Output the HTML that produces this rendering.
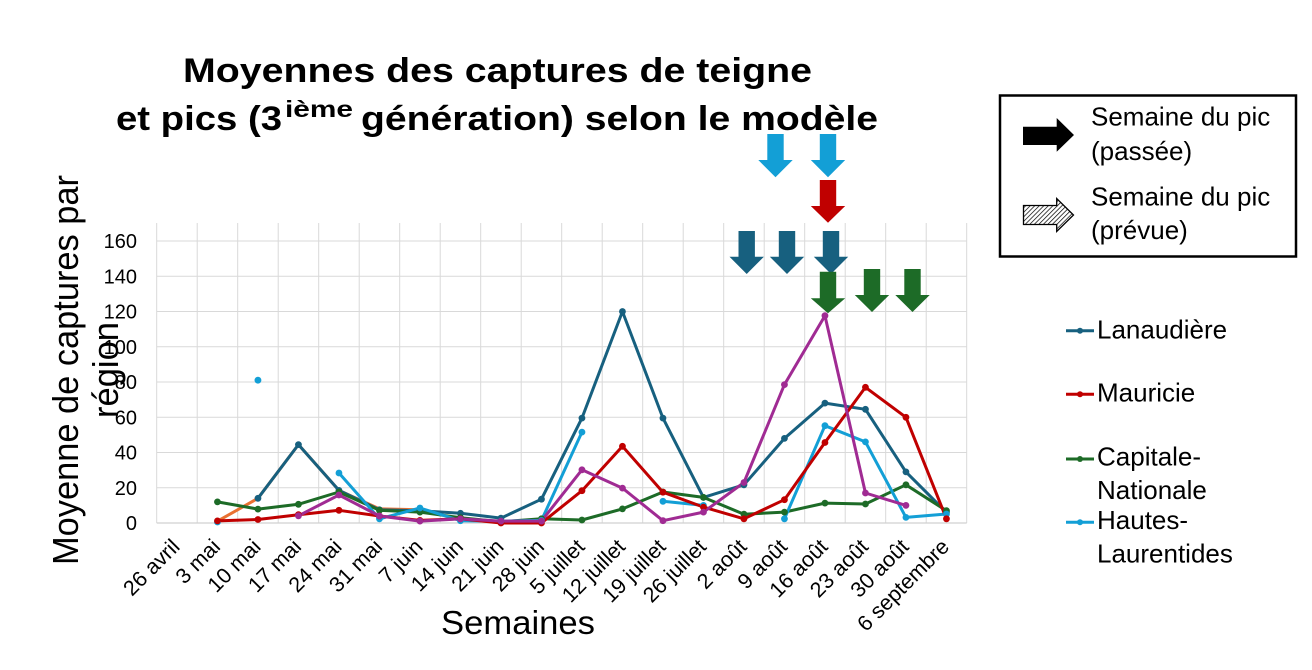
<!DOCTYPE html>
<html><head><meta charset="utf-8"><style>
html,body{margin:0;padding:0;background:#fff;}
svg{display:block;}
text{font-family:"Liberation Sans",Arial,sans-serif;fill:#000;}
</style></head><body>
<svg width="1312" height="670" viewBox="0 0 1312 670" xmlns="http://www.w3.org/2000/svg">
<defs>
<pattern id="hatch" width="3.2" height="3.2" patternUnits="userSpaceOnUse" patternTransform="rotate(45)">
<rect width="3.2" height="3.2" fill="#fff"/>
<line x1="0" y1="0" x2="0" y2="3.2" stroke="#000" stroke-width="1.4"/>
</pattern>
</defs>
<rect width="1312" height="670" fill="#fff"/>

<!-- Title -->
<text x="183" y="82" font-size="34" font-weight="bold" textLength="629" lengthAdjust="spacingAndGlyphs">Moyennes des captures de teigne</text>
<text x="116" y="130" font-size="34" font-weight="bold" textLength="166" lengthAdjust="spacingAndGlyphs">et pics (3</text>
<text x="285" y="117" font-size="23" font-weight="bold" textLength="68" lengthAdjust="spacingAndGlyphs">ième</text>
<text x="361" y="130" font-size="34" font-weight="bold" textLength="517" lengthAdjust="spacingAndGlyphs">génération) selon le modèle</text>

<!-- gridlines -->
<g stroke="#d9d9d9" stroke-width="1">
<line x1="156.7" y1="487.75" x2="966.7" y2="487.75"/>
<line x1="156.7" y1="452.5" x2="966.7" y2="452.5"/>
<line x1="156.7" y1="417.25" x2="966.7" y2="417.25"/>
<line x1="156.7" y1="382" x2="966.7" y2="382"/>
<line x1="156.7" y1="346.75" x2="966.7" y2="346.75"/>
<line x1="156.7" y1="311.5" x2="966.7" y2="311.5"/>
<line x1="156.7" y1="276.25" x2="966.7" y2="276.25"/>
<line x1="156.7" y1="241" x2="966.7" y2="241"/>
<line x1="156.7" y1="223" x2="156.7" y2="523"/>
<line x1="197.2" y1="223" x2="197.2" y2="523"/>
<line x1="237.7" y1="223" x2="237.7" y2="523"/>
<line x1="278.2" y1="223" x2="278.2" y2="523"/>
<line x1="318.7" y1="223" x2="318.7" y2="523"/>
<line x1="359.2" y1="223" x2="359.2" y2="523"/>
<line x1="399.7" y1="223" x2="399.7" y2="523"/>
<line x1="440.2" y1="223" x2="440.2" y2="523"/>
<line x1="480.7" y1="223" x2="480.7" y2="523"/>
<line x1="521.2" y1="223" x2="521.2" y2="523"/>
<line x1="561.7" y1="223" x2="561.7" y2="523"/>
<line x1="602.2" y1="223" x2="602.2" y2="523"/>
<line x1="642.7" y1="223" x2="642.7" y2="523"/>
<line x1="683.2" y1="223" x2="683.2" y2="523"/>
<line x1="723.7" y1="223" x2="723.7" y2="523"/>
<line x1="764.2" y1="223" x2="764.2" y2="523"/>
<line x1="804.7" y1="223" x2="804.7" y2="523"/>
<line x1="845.2" y1="223" x2="845.2" y2="523"/>
<line x1="885.7" y1="223" x2="885.7" y2="523"/>
<line x1="926.2" y1="223" x2="926.2" y2="523"/>
<line x1="966.7" y1="223" x2="966.7" y2="523"/>
</g>
<line x1="156.7" y1="523" x2="966.7" y2="523" stroke="#d0d0d0" stroke-width="1.2"/>

<!-- Y tick labels -->
<g font-size="20" text-anchor="end">
<text x="137" y="530">0</text>
<text x="137" y="494.75">20</text>
<text x="137" y="459.5">40</text>
<text x="137" y="424.25">60</text>
<text x="137" y="389">80</text>
<text x="137" y="353.75">100</text>
<text x="137" y="318.5">120</text>
<text x="137" y="283.25">140</text>
<text x="137" y="248">160</text>
</g>

<!-- X labels -->
<g font-size="21.5" text-anchor="end">
<text transform="translate(181,548) rotate(-45)">26 avril</text>
<text transform="translate(221.5,548) rotate(-45)">3 mai</text>
<text transform="translate(262,548) rotate(-45)">10 mai</text>
<text transform="translate(302.5,548) rotate(-45)">17 mai</text>
<text transform="translate(343,548) rotate(-45)">24 mai</text>
<text transform="translate(383.5,548) rotate(-45)">31 mai</text>
<text transform="translate(424,548) rotate(-45)">7 juin</text>
<text transform="translate(464.5,548) rotate(-45)">14 juin</text>
<text transform="translate(505,548) rotate(-45)">21 juin</text>
<text transform="translate(545.5,548) rotate(-45)">28 juin</text>
<text transform="translate(586,548) rotate(-45)">5 juillet</text>
<text transform="translate(626.5,548) rotate(-45)">12 juillet</text>
<text transform="translate(667,548) rotate(-45)">19 juillet</text>
<text transform="translate(707.5,548) rotate(-45)">26 juillet</text>
<text transform="translate(748,548) rotate(-45)">2 août</text>
<text transform="translate(788.5,548) rotate(-45)">9 août</text>
<text transform="translate(829,548) rotate(-45)">16 août</text>
<text transform="translate(869.5,548) rotate(-45)">23 août</text>
<text transform="translate(910,548) rotate(-45)">30 août</text>
<text transform="translate(950.5,548) rotate(-45)">6 septembre</text>
</g>

<!-- Axis titles -->
<text x="518" y="634" font-size="33" text-anchor="middle" textLength="154" lengthAdjust="spacingAndGlyphs">Semaines</text>
<text transform="translate(78,370) rotate(-90)" font-size="36" text-anchor="middle" textLength="390" lengthAdjust="spacingAndGlyphs">Moyenne de captures par</text>
<text transform="translate(118,370) rotate(-90)" font-size="36" text-anchor="middle" textLength="96" lengthAdjust="spacingAndGlyphs">région</text>

<!-- Series -->
<g fill="none" stroke-width="3" stroke-linejoin="round" stroke-linecap="round">
<polyline stroke="#e97132" points="217.45,521.2 257.95,498.3 298.45,444.6 338.95,490.4 379.45,508.9 419.95,509.8"/>
<polyline stroke="#17607f" points="257.95,498.3 298.45,444.6 338.95,490.4 379.45,509.8 419.95,510.7 460.45,513.3 500.95,518.1 541.45,499.2 581.95,418.1 622.45,311.5 662.95,418.1 703.45,497.4 743.95,484.8 784.45,438.4 824.95,403.1 865.45,409.3 905.95,471.9 946.45,512.4"/>
<polyline stroke="#1d6b27" points="217.45,501.9 257.95,509.1 298.45,504.3 338.95,492.0 379.45,510.3 419.95,512.1 460.45,517.7 500.95,521.8 541.45,518.8 581.95,520.0 622.45,508.9 662.95,492.0 703.45,497.4 743.95,514.2 784.45,512.1 824.95,503.1 865.45,504.0 905.95,484.8 946.45,510.7"/>
<polyline stroke="#139fd6" points="338.95,473.0 379.45,518.8 419.95,508.0 460.45,520.7 500.95,521.2 541.45,520.4 581.95,432.1"/>
<polyline stroke="#139fd6" points="662.95,501.3 703.45,505.4"/>
<polyline stroke="#139fd6" points="784.45,518.8 824.95,425.7 865.45,441.9 905.95,517.4 946.45,514.0"/>
<polyline stroke="#c00000" points="217.45,520.9 257.95,519.5 298.45,514.7 338.95,510.3 379.45,516.0 419.95,520.4 460.45,518.8 500.95,523 541.45,523 581.95,490.7 622.45,446.3 662.95,492.2 703.45,507.1 743.95,518.8 784.45,499.7 824.95,442.5 865.45,387.3 905.95,417.3 946.45,518.8"/>
<polyline stroke="#a02b93" points="298.45,515.8 338.95,495.0 379.45,516.0 419.95,521.1 460.45,518.9 500.95,521.1 541.45,521.1 581.95,469.8 622.45,488.1 662.95,520.7 703.45,512.1 743.95,482.5 784.45,384.6 824.95,315.7 865.45,493.0 905.95,505.4"/>
</g>

<!-- markers -->
<g fill="#17607f">
<circle cx="257.95" cy="498.3" r="3.4"/><circle cx="298.45" cy="444.6" r="3.4"/><circle cx="338.95" cy="490.4" r="3.4"/><circle cx="379.45" cy="509.8" r="3.4"/><circle cx="419.95" cy="510.7" r="3.4"/><circle cx="460.45" cy="513.3" r="3.4"/><circle cx="500.95" cy="518.1" r="3.4"/><circle cx="541.45" cy="499.2" r="3.4"/><circle cx="581.95" cy="418.1" r="3.4"/><circle cx="622.45" cy="311.5" r="3.4"/><circle cx="662.95" cy="418.1" r="3.4"/><circle cx="703.45" cy="497.4" r="3.4"/><circle cx="743.95" cy="484.8" r="3.4"/><circle cx="784.45" cy="438.4" r="3.4"/><circle cx="824.95" cy="403.1" r="3.4"/><circle cx="865.45" cy="409.3" r="3.4"/><circle cx="905.95" cy="471.9" r="3.4"/><circle cx="946.45" cy="512.4" r="3.4"/>
</g>
<g fill="#1d6b27">
<circle cx="217.45" cy="501.9" r="3.4"/><circle cx="257.95" cy="509.1" r="3.4"/><circle cx="298.45" cy="504.3" r="3.4"/><circle cx="338.95" cy="492.0" r="3.4"/><circle cx="379.45" cy="510.3" r="3.4"/><circle cx="419.95" cy="512.1" r="3.4"/><circle cx="460.45" cy="517.7" r="3.4"/><circle cx="500.95" cy="521.8" r="3.4"/><circle cx="541.45" cy="518.8" r="3.4"/><circle cx="581.95" cy="520.0" r="3.4"/><circle cx="622.45" cy="508.9" r="3.4"/><circle cx="662.95" cy="492.0" r="3.4"/><circle cx="703.45" cy="497.4" r="3.4"/><circle cx="743.95" cy="514.2" r="3.4"/><circle cx="784.45" cy="512.1" r="3.4"/><circle cx="824.95" cy="503.1" r="3.4"/><circle cx="865.45" cy="504.0" r="3.4"/><circle cx="905.95" cy="484.8" r="3.4"/><circle cx="946.45" cy="510.7" r="3.4"/>
</g>
<g fill="#139fd6">
<circle cx="217.45" cy="522" r="3.4"/><circle cx="257.95" cy="380.2" r="3.4"/>
<circle cx="338.95" cy="473.0" r="3.4"/><circle cx="379.45" cy="518.8" r="3.4"/><circle cx="419.95" cy="508.0" r="3.4"/><circle cx="460.45" cy="520.7" r="3.4"/><circle cx="500.95" cy="521.2" r="3.4"/><circle cx="541.45" cy="520.4" r="3.4"/><circle cx="581.95" cy="432.1" r="3.4"/>
<circle cx="662.95" cy="501.3" r="3.4"/><circle cx="703.45" cy="505.4" r="3.4"/>
<circle cx="784.45" cy="518.8" r="3.4"/><circle cx="824.95" cy="425.7" r="3.4"/><circle cx="865.45" cy="441.9" r="3.4"/><circle cx="905.95" cy="517.4" r="3.4"/><circle cx="946.45" cy="514.0" r="3.4"/>
</g>
<g fill="#c00000">
<circle cx="217.45" cy="520.9" r="3.4"/><circle cx="257.95" cy="519.5" r="3.4"/><circle cx="298.45" cy="514.7" r="3.4"/><circle cx="338.95" cy="510.3" r="3.4"/><circle cx="379.45" cy="516.0" r="3.4"/><circle cx="419.95" cy="520.4" r="3.4"/><circle cx="460.45" cy="518.8" r="3.4"/><circle cx="500.95" cy="523" r="3.4"/><circle cx="541.45" cy="523" r="3.4"/><circle cx="581.95" cy="490.7" r="3.4"/><circle cx="622.45" cy="446.3" r="3.4"/><circle cx="662.95" cy="492.2" r="3.4"/><circle cx="703.45" cy="507.1" r="3.4"/><circle cx="743.95" cy="518.8" r="3.4"/><circle cx="784.45" cy="499.7" r="3.4"/><circle cx="824.95" cy="442.5" r="3.4"/><circle cx="865.45" cy="387.3" r="3.4"/><circle cx="905.95" cy="417.3" r="3.4"/><circle cx="946.45" cy="518.8" r="3.4"/>
</g>
<g fill="#a02b93">
<circle cx="298.45" cy="515.8" r="3.4"/><circle cx="338.95" cy="495.0" r="3.4"/><circle cx="379.45" cy="516.0" r="3.4"/><circle cx="419.95" cy="521.1" r="3.4"/><circle cx="460.45" cy="518.9" r="3.4"/><circle cx="500.95" cy="521.1" r="3.4"/><circle cx="541.45" cy="521.1" r="3.4"/><circle cx="581.95" cy="469.8" r="3.4"/><circle cx="622.45" cy="488.1" r="3.4"/><circle cx="662.95" cy="520.7" r="3.4"/><circle cx="703.45" cy="512.1" r="3.4"/><circle cx="743.95" cy="482.5" r="3.4"/><circle cx="784.45" cy="384.6" r="3.4"/><circle cx="824.95" cy="315.7" r="3.4"/><circle cx="865.45" cy="493.0" r="3.4"/><circle cx="905.95" cy="505.4" r="3.4"/>
</g>

<!-- Peak arrows -->
<g fill="#139fd6">
<polygon points="767.3,134 783.7,134 783.7,160 792.7,160 775.5,177.3 758.3,160 767.3,160"/>
<polygon points="819.8,134 836.2,134 836.2,160 845.2,160 828,177.3 810.8,160 819.8,160"/>
</g>
<polygon fill="#c00000" points="819.8,180 836.2,180 836.2,206 845.2,206 828,222.7 810.8,206 819.8,206"/>
<g fill="#17607f">
<polygon points="738.5,231 754.9,231 754.9,256.7 763.9,256.7 746.7,274 729.5,256.7 738.5,256.7"/>
<polygon points="778.8,231 795.2,231 795.2,256.7 804.2,256.7 787,274 769.8,256.7 778.8,256.7"/>
<polygon points="822.8,231 839.2,231 839.2,256.7 848.2,256.7 831,274 813.8,256.7 822.8,256.7"/>
</g>
<g fill="#1d6b27">
<polygon points="819.8,271.7 836.2,271.7 836.2,298.3 845.2,298.3 828,313.3 810.8,298.3 819.8,298.3"/>
<polygon points="863.8,269 880.2,269 880.2,295 889.2,295 872,312 854.8,295 863.8,295"/>
<polygon points="904.3,269 920.7,269 920.7,295 929.7,295 912.5,312 895.3,295 904.3,295"/>
</g>

<!-- Arrow legend box -->
<rect x="1000" y="95.5" width="296" height="161" fill="#fff" stroke="#000" stroke-width="2.5"/>
<polygon fill="#000" points="1023,126.7 1056.7,126.7 1056.7,118 1074,135 1056.7,151.7 1056.7,145 1023,145"/>
<polygon fill="url(#hatch)" stroke="#000" stroke-width="1.3" points="1023.5,205.5 1056.7,205.5 1056.7,198.5 1073.5,215 1056.7,231.5 1056.7,224.5 1023.5,224.5"/>
<g font-size="26">
<text x="1091" y="125.7">Semaine du pic</text>
<text x="1091" y="160">(passée)</text>
<text x="1091" y="205.7">Semaine du pic</text>
<text x="1091" y="239">(prévue)</text>
</g>

<!-- Series legend -->
<g stroke-width="3">
<line x1="1066" y1="330.7" x2="1094" y2="330.7" stroke="#17607f"/>
<line x1="1066" y1="394.3" x2="1094" y2="394.3" stroke="#c00000"/>
<line x1="1066" y1="459" x2="1094" y2="459" stroke="#1d6b27"/>
<line x1="1066" y1="522.3" x2="1094" y2="522.3" stroke="#139fd6"/>
</g>
<circle cx="1080" cy="330.7" r="3" fill="#17607f"/>
<circle cx="1080" cy="394.3" r="3" fill="#c00000"/>
<circle cx="1080" cy="459" r="3" fill="#1d6b27"/>
<circle cx="1080" cy="522.3" r="3" fill="#139fd6"/>
<g font-size="26">
<text x="1097" y="338.3">Lanaudière</text>
<text x="1097" y="401.7">Mauricie</text>
<text x="1097" y="465.7">Capitale-</text>
<text x="1097" y="499">Nationale</text>
<text x="1097" y="529">Hautes-</text>
<text x="1097" y="562.3">Laurentides</text>
</g>
</svg>
</body></html>
